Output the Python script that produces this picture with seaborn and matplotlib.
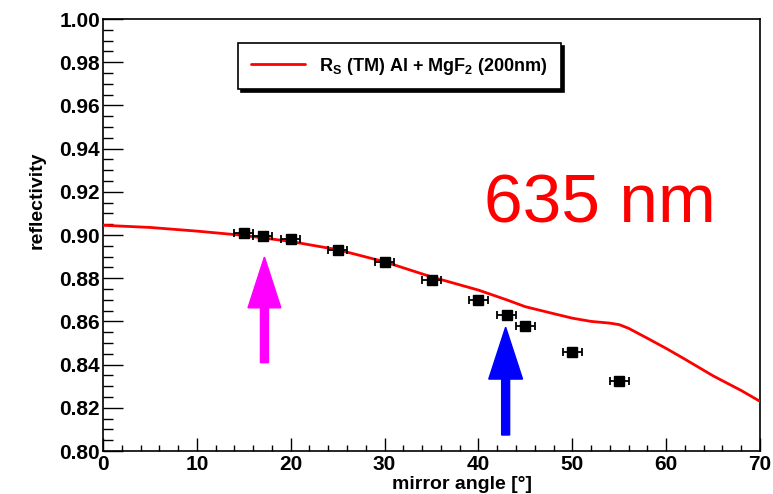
import numpy as np
import pandas as pd
import matplotlib
matplotlib.use("Agg")
import matplotlib.pyplot as plt
import seaborn as sns
from matplotlib.ticker import MultipleLocator

# ---- data ----
curve_angle = [0, 5, 10, 15, 20, 25, 30, 35, 40, 43, 45, 48, 50, 52, 54, 55, 56, 58, 60, 62, 65, 68, 70]
curve_refl = [0.9045, 0.9035, 0.9018, 0.8998, 0.8970, 0.8932, 0.8876, 0.8806, 0.8745, 0.8700,
              0.8668, 0.8636, 0.8615, 0.8600, 0.8592, 0.8585, 0.8568, 0.8522, 0.8475, 0.8425,
              0.8348, 0.8280, 0.8230]
meas_angle = [15, 17, 20, 25, 30, 35, 40, 43, 45, 50, 55]
meas_refl = [0.9008, 0.8995, 0.8980, 0.8931, 0.8874, 0.8793, 0.8698, 0.8630, 0.8580, 0.8458, 0.8326]
meas_xerr = [1.0] * len(meas_angle)
legend_label = r"R$_{S}$ (TM) Al + MgF$_{2}$ (200nm)"
annotation_text = "635 nm"
x_label = "mirror angle [°]"
y_label = "reflectivity"

sns.set_theme(style="white")
plt.rcParams["font.family"] = ["Liberation Sans", "DejaVu Sans"]
plt.rcParams["font.weight"] = "bold"
plt.rcParams["mathtext.fontset"] = "custom"
plt.rcParams["mathtext.rm"] = "Liberation Sans:bold"
plt.rcParams["mathtext.it"] = "Liberation Sans:bold"
plt.rcParams["mathtext.bf"] = "Liberation Sans:bold"
plt.rcParams["axes.labelcolor"] = "black"
plt.rcParams["text.color"] = "black"

fig = plt.figure(figsize=(7.73, 4.94), dpi=100)
fig.patch.set_facecolor("white")
ax = fig.add_axes([103 / 773, 1 - 451 / 494, 657 / 773, 432 / 494])
ax.set_facecolor("white")

curve_df = pd.DataFrame({"angle": curve_angle, "refl": curve_refl})
sns.lineplot(data=curve_df, x="angle", y="refl", color="#ff0000", lw=2.0, ax=ax,
             label=legend_label, zorder=3)

ax.errorbar(meas_angle, meas_refl, xerr=meas_xerr, fmt="s", color="black", ms=7,
            elinewidth=1.3, capsize=3, capthick=1.3, zorder=4)

# arrows
ax.arrow(17.2, 0.8409, 0, 0.8898 - 0.8409, width=0.85, head_width=3.5, head_length=0.0235,
         length_includes_head=True, color="#ff00ff", zorder=5)
ax.arrow(42.9, 0.8074, 0, 0.8573 - 0.8074, width=0.85, head_width=3.6, head_length=0.0240,
         length_includes_head=True, color="#0000ff", zorder=5)

ax.text(40.6, 0.906, annotation_text, color="#ff0000", fontsize=50, fontweight="normal",
        family="Liberation Sans", ha="left", va="baseline")

ax.set_xlim(0, 70)
ax.set_ylim(0.80, 1.00)
ax.xaxis.set_major_locator(MultipleLocator(10))
ax.xaxis.set_minor_locator(MultipleLocator(2))
ax.yaxis.set_major_locator(MultipleLocator(0.02))
ax.yaxis.set_minor_locator(MultipleLocator(0.005))
ax.yaxis.set_major_formatter(matplotlib.ticker.FormatStrFormatter("%.2f"))
ax.tick_params(axis="both", which="both", direction="in", top=False, right=False,
               left=True, bottom=True, colors="black", labelcolor="black", labelsize=15)
ax.tick_params(axis="y", which="major", length=14.5, width=1, pad=2)
ax.tick_params(axis="y", which="minor", length=7, width=1)
ax.tick_params(axis="x", which="major", length=9.5, width=1, pad=3)
ax.tick_params(axis="x", which="minor", length=4.5, width=1)
for lab in ax.get_xticklabels() + ax.get_yticklabels():
    lab.set_fontweight("bold")

for s in ax.spines.values():
    s.set_visible(True)
    s.set_color("black")
    s.set_linewidth(1.2)

ax.set_xlabel(x_label, fontsize=14, fontweight="bold", color="black")
ax.set_ylabel(y_label, fontsize=14, fontweight="bold", color="black")
ax.xaxis.set_label_coords(0.546, -0.058)
ax.yaxis.set_label_coords(-0.088, 0.58)

leg = ax.legend(loc="center", bbox_to_anchor=(0.2055, 0.8426, 0.4916, 0.0972), mode="expand",
                frameon=True, fancybox=False, fontsize=13, handlelength=3.0, handletextpad=0.78,
                borderpad=0.7, borderaxespad=0,
                shadow={"color": "black", "alpha": 1.0})
leg.get_frame().set_edgecolor("black")
leg.get_frame().set_linewidth(1.2)
for t in leg.get_texts():
    t.set_fontweight("bold")
    t.set_color("black")

fig.savefig("out.png", dpi=100, facecolor="white")
